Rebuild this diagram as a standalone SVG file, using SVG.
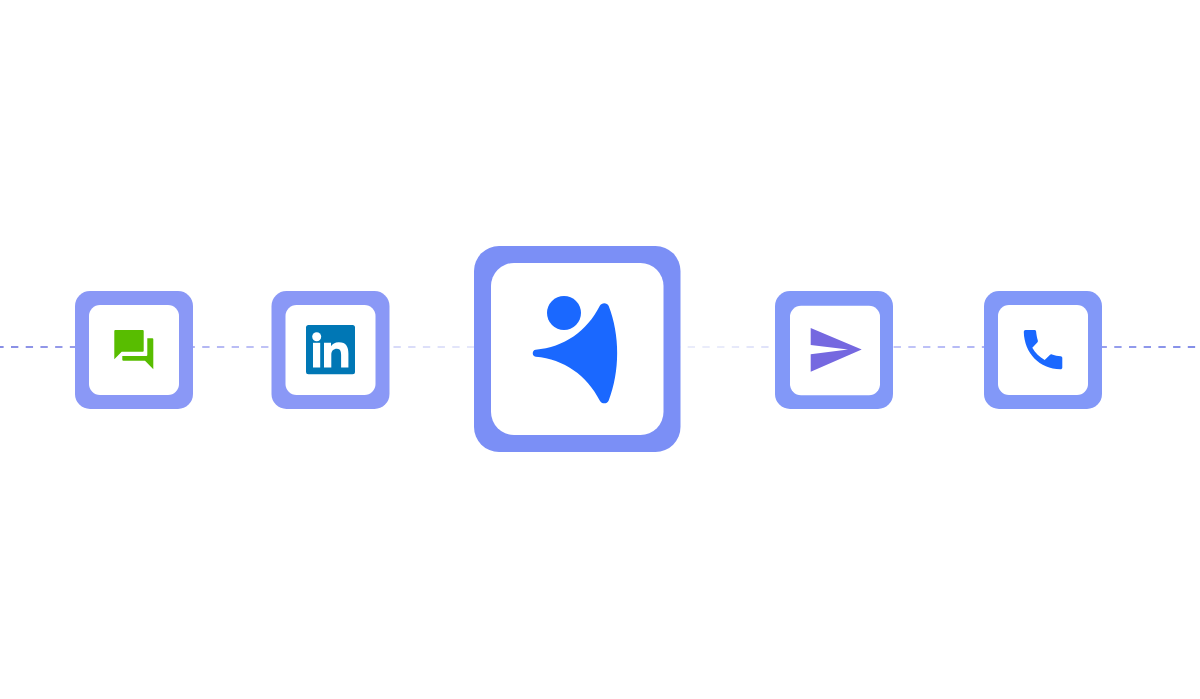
<svg xmlns="http://www.w3.org/2000/svg" width="1200" height="699" viewBox="0 0 1200 699">
<style>
.inner{fill:#fff}
.wire{fill:none;stroke:url(#wireGrad);stroke-width:1.5;stroke-dasharray:7.35 7.36}
</style>
<defs>
<linearGradient id="wireGrad" gradientUnits="userSpaceOnUse" x1="0" y1="0" x2="1200" y2="0">
<stop offset="0" stop-color="#6068dc"/>
<stop offset="0.2" stop-color="#a4a8f2"/>
<stop offset="0.4" stop-color="#dfe2f9"/>
<stop offset="0.6" stop-color="#e3e6f9"/>
<stop offset="0.78" stop-color="#a4a9f4"/>
<stop offset="1" stop-color="#5a68e0"/>
</linearGradient>
</defs>
<rect width="1200" height="699" fill="#fff"/>
<g id="connectors">
<path class="wire" d="M-3.710 347H1200"/>
</g>
<g id="node-chat">
<rect x="75" y="291" width="118" height="118" rx="15" fill="#8a98f6"/>
<rect class="inner" x="89" y="305" width="90" height="90" rx="11"/>
<path fill="#58bd00" d="M115.300 330H142.700a1 1 0 0 1 1 1V350.700a1 1 0 0 1-1 1H121.700L114.300 359.300V331a1 1 0 0 1 1-1Z"/>
<path fill="#58bd00" d="M147.300 338.300H152.300a1 1 0 0 1 1 1V369.200L145 360.800H123.300a1 1 0 0 1-1-1V356H146.300a1 1 0 0 0 1-1Z"/>
</g>
<g id="node-linkedin">
<rect x="271.500" y="291" width="118" height="118" rx="15" fill="#8a98f6"/>
<rect class="inner" x="285.500" y="305" width="90" height="90" rx="11"/>
<rect x="306" y="325" width="49" height="49.300" rx="2.500" fill="#0077b5"/>
<circle cx="316.700" cy="336.700" r="4.500" fill="#fff"/>
<rect x="313" y="342.800" width="7.200" height="24.700" fill="#fff"/>
<path fill="#fff" d="M324 342.800H331V346.200C332.200 344.100 335 342.200 338.800 342.200C346.400 342.200 348.400 347 348.400 353.600V367.500H341.100V355C341.100 351.600 340.300 348.800 337 348.800C333.300 348.800 331.300 351 331.300 355V367.500H324Z"/>
</g>
<g id="node-center">
<rect x="474" y="246" width="206.500" height="206" rx="25" fill="#7b8ff6"/>
<rect class="inner" x="491" y="263" width="172.500" height="172" rx="23"/>
<circle cx="564" cy="313" r="17" fill="#1a68ff"/>
<path fill="#1a68ff" d="M535.700 349.700C564 347.500 587 331 599.700 306C601.700 302.300 607 302.300 608.700 306C620 335 620 371.500 608.700 400.500C607 404.300 601.700 404.300 599.700 400.500C587 375.500 564 359 535.700 356.700C531.800 356.300 531.800 350 535.700 349.700Z"/>
</g>
<g id="node-send">
<rect x="775" y="291" width="118" height="118" rx="15" fill="#8298f8"/>
<rect class="inner" x="790" y="305.700" width="90" height="89.500" rx="11"/>
<path fill="#7568e0" d="M810.700 328L861.700 349.500L810.700 371.700V354.300L848 349.500L810.700 345Z"/>
</g>
<g id="node-phone">
<rect x="984" y="291" width="118" height="118" rx="15" fill="#8298f8"/>
<rect class="inner" x="998" y="305" width="90" height="90" rx="11"/>
<path fill="#1a68ff" d="M1025.500 330H1034.500C1035.500 330 1036 330.600 1036.100 331.500C1036.400 334.700 1036.900 337.700 1037.800 340.300C1038.100 341.100 1037.900 341.800 1037.300 342.400L1032.300 347.700C1035.300 353 1039.500 357 1044.700 360L1049.800 355C1050.500 354.300 1051.300 354.200 1052 354.500C1054.800 355.500 1057.700 356 1060.700 356.300C1061.600 356.400 1062.300 357 1062.300 358V367.500C1062.300 368.500 1061.500 369.300 1060.500 369.300C1039.500 369 1024.300 353 1023.800 332C1023.800 330.800 1024.500 330 1025.500 330Z"/>
</g>
</svg>
